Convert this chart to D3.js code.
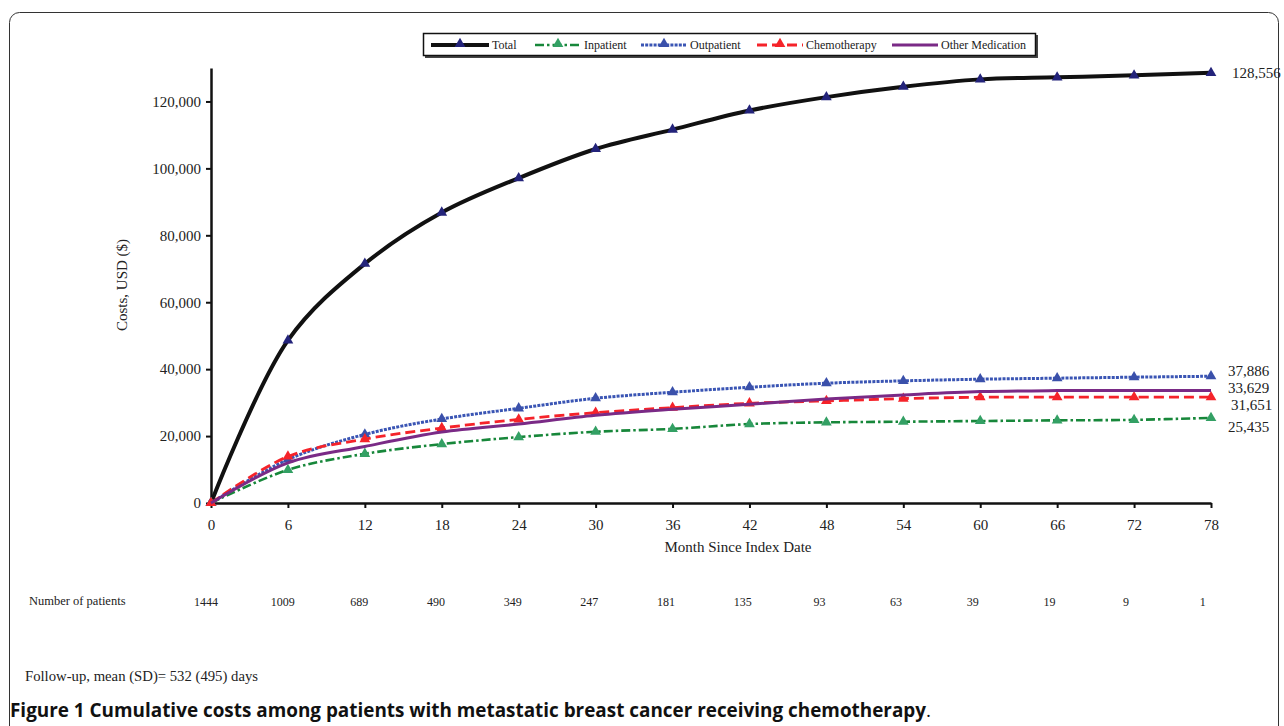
<!DOCTYPE html>
<html>
<head>
<meta charset="utf-8">
<script src="https://cdn.jsdelivr.net/npm/d3@7"></script>
<style>
  body { margin: 0; background: #fff; }
  svg text { font-family: "Liberation Serif", "Times New Roman", serif; fill: #222; }
</style>
</head>
<body>
<div id="svg-area"></div>
<script>
var svgWidth = 1284;
var svgHeight = 726;

// data
var months = [0, 6, 12, 18, 24, 30, 36, 42, 48, 54, 60, 66, 72, 78];
var total = [0, 48600, 71500, 86800, 97100, 105800, 111600, 117300, 121300, 124400, 126600, 127200, 127800, 128556];
var inpatient = [0, 9900, 14700, 17600, 19700, 21300, 22150, 23600, 24100, 24300, 24500, 24700, 24850, 25435];
var outpatient = [0, 13000, 20500, 25100, 28300, 31300, 33100, 34600, 35800, 36500, 37000, 37300, 37600, 37886];
var chemo = [0, 13900, 19100, 22400, 25000, 27000, 28500, 29800, 30500, 31200, 31600, 31620, 31640, 31651];
var otherMed = [0, 12000, 16900, 21200, 23600, 26200, 28000, 29500, 31100, 32300, 33300, 33600, 33620, 33629];
var patients = [1444, 1009, 689, 490, 349, 247, 181, 135, 93, 63, 39, 19, 9, 1];
var yTicks = [0, 20000, 40000, 60000, 80000, 100000, 120000];

var series = [
  { name: "Total", values: total, color: "#111", marker: "#23237a", width: 4, dash: null, markers: true },
  { name: "Inpatient", values: inpatient, color: "#17873a", marker: "#33a064", width: 2.6, dash: "9,3,2.5,3", markers: true },
  { name: "Outpatient", values: outpatient, color: "#3a55b4", marker: "#3a50aa", width: 3, dash: "3,1.2", markers: true },
  { name: "Chemotherapy", values: chemo, color: "#f5232a", marker: "#f5232a", width: 2.8, dash: "10,5", markers: true },
  { name: "Other Medication", values: otherMed, color: "#7a2a86", width: 3, dash: null, markers: false }
];

var svg = d3.select("#svg-area")
  .append("svg")
  .attr("width", svgWidth)
  .attr("height", svgHeight);

// outer frame
svg.append("rect")
  .attr("x", 9.5).attr("y", 12.5)
  .attr("width", 1269).attr("height", 740)
  .attr("rx", 10)
  .attr("fill", "none")
  .attr("stroke", "#333")
  .attr("stroke-width", 1);

var xScale = d3.scaleLinear().domain([0, 78]).range([211, 1211]);
var yScale = d3.scaleLinear().domain([0, 130000]).range([503, 68]);

// axes
var xAxis = d3.axisBottom(xScale).tickValues(months).tickSize(5).tickSizeOuter(0).tickPadding(11);
var yAxis = d3.axisLeft(yScale).tickValues(yTicks).tickSize(5).tickSizeOuter(0).tickPadding(5)
  .tickFormat(d3.format(","));

var gx = svg.append("g").attr("transform", "translate(0,503)").call(xAxis);
var gy = svg.append("g").attr("transform", "translate(211,0)").call(yAxis);
[gx, gy].forEach(function(g) {
  g.select(".domain").attr("stroke", "#111").attr("stroke-width", 2.5);
  g.selectAll(".tick line").attr("stroke", "#111").attr("stroke-width", 2);
  g.selectAll(".tick text")
    .attr("font-family", "Liberation Serif, serif")
    .attr("font-size", 15)
    .attr("fill", "#222");
});

svg.append("text")
  .attr("x", 738).attr("y", 552)
  .attr("text-anchor", "middle")
  .attr("font-size", 15)
  .text("Month Since Index Date");

svg.append("text")
  .attr("transform", "translate(127,285) rotate(-90)")
  .attr("text-anchor", "middle")
  .attr("font-size", 15)
  .text("Costs, USD ($)");

// lines
var lineGenerator = d3.line()
  .x(function(d, i) { return xScale(months[i]); })
  .y(function(d) { return yScale(d); })
  .curve(d3.curveCatmullRom.alpha(0.5));

var triangle = d3.symbol().type(d3.symbolTriangle).size(50);

series.forEach(function(s) {
  svg.append("path")
    .attr("fill", "none")
    .attr("stroke", s.color)
    .attr("stroke-width", s.width)
    .attr("stroke-dasharray", s.dash)
    .attr("d", lineGenerator(s.values));
  if (s.markers) {
    svg.append("g").selectAll("path")
      .data(s.values)
      .enter().append("path")
      .attr("d", triangle)
      .attr("fill", s.marker)
      .attr("transform", function(d, i) { return "translate(" + xScale(months[i]) + "," + yScale(d) + ")"; });
  }
});

// end value labels
var endLabels = [
  { value: total[13], dx: 21 },
  { value: outpatient[13], dx: 17 },
  { value: otherMed[13], dx: 17 },
  { value: chemo[13], dx: 20 },
  { value: inpatient[13], dx: 17 }
];
var endY = [73, 371, 388, 405, 427];
endLabels.forEach(function(l, i) {
  svg.append("text")
    .attr("x", xScale(78) + l.dx)
    .attr("y", endY[i])
    .attr("dy", "0.35em")
    .attr("font-size", 15)
    .text(d3.format(",")(l.value));
});

// legend
var legend = svg.append("g");
legend.append("rect")
  .attr("x", 425).attr("y", 35).attr("width", 613).attr("height", 23)
  .attr("fill", "#444");
legend.append("rect")
  .attr("x", 423.5).attr("y", 33.5).attr("width", 612).attr("height", 22)
  .attr("fill", "#fff").attr("stroke", "#111").attr("stroke-width", 1.5);

var legendX = [431, 535, 641, 757, 892];
series.forEach(function(s, i) {
  var x0 = legendX[i];
  var sampleW = i === 0 ? 58 : 46;
  legend.append("line")
    .attr("x1", x0).attr("x2", x0 + sampleW)
    .attr("y1", 45).attr("y2", 45)
    .attr("stroke", s.color)
    .attr("stroke-width", s.width)
    .attr("stroke-dasharray", s.dash);
  if (s.markers) {
    legend.append("path")
      .attr("d", triangle)
      .attr("fill", s.marker)
      .attr("transform", "translate(" + (x0 + sampleW / 2) + ",44)");
  }
  legend.append("text")
    .attr("x", x0 + sampleW + 3)
    .attr("y", 45)
    .attr("dy", "0.35em")
    .attr("font-size", 12)
    .text(s.name);
});

// number of patients row
svg.append("text")
  .attr("x", 29).attr("y", 601).attr("dy", "0.35em")
  .attr("font-size", 12.5)
  .text("Number of patients");

svg.append("g").selectAll("text")
  .data(patients)
  .enter().append("text")
  .attr("x", function(d, i) { return xScale(months[i]) - 5 - i * 0.25; })
  .attr("y", 602)
  .attr("dy", "0.35em")
  .attr("text-anchor", "middle")
  .attr("font-size", 12)
  .text(function(d) { return d; });

svg.append("text")
  .attr("x", 25).attr("y", 676).attr("dy", "0.35em")
  .attr("font-size", 14)
  .attr("textLength", 233)
  .attr("lengthAdjust", "spacingAndGlyphs")
  .text("Follow-up, mean (SD)= 532 (495) days");

// caption
var caption = svg.append("text")
  .attr("x", 10).attr("y", 717)
  .attr("font-size", 18.9)
  .style("font-family", "'Liberation Sans Narrow', 'Open Sans', sans-serif")
  .style("fill", "#111");
caption.append("tspan")
  .attr("font-weight", "bold")
  .text("Figure 1 Cumulative costs among patients with metastatic breast cancer receiving chemotherapy");
caption.append("tspan").text(".");
</script>
</body>
</html>
